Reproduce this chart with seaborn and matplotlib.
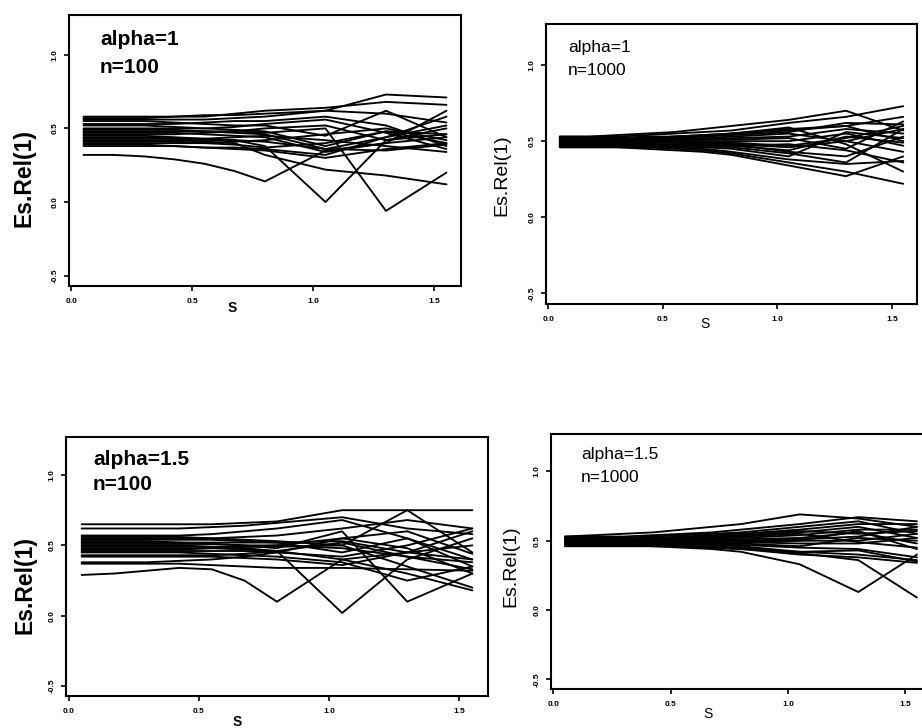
import pandas as pd
import matplotlib
matplotlib.use("Agg")
import matplotlib.pyplot as plt
import seaborn as sns

# grid of s values shared by every curve
s_vals = [0.05, 0.175, 0.3, 0.425, 0.55, 0.675, 0.8, 1.05, 1.3, 1.55]
x_ticks = [0.0, 0.5, 1.0, 1.5]
x_tick_labels = ["0.0", "0.5", "1.0", "1.5"]
y_ticks = [-0.5, 0.0, 0.5, 1.0]
y_tick_labels = ["-0.5", "0.0", "0.5", "1.0"]

# alpha=1, n=100
rel_a1_n100 = [
    [0.58, 0.58, 0.58, 0.58, 0.59, 0.59, 0.60, 0.62, 0.73, 0.71],
    [0.57, 0.57, 0.57, 0.58, 0.58, 0.60, 0.62, 0.64, 0.68, 0.66],
    [0.56, 0.56, 0.56, 0.56, 0.56, 0.57, 0.58, 0.62, 0.60, 0.54],
    [0.55, 0.55, 0.55, 0.54, 0.53, 0.52, 0.52, 0.45, 0.62, 0.44],
    [0.53, 0.53, 0.53, 0.53, 0.54, 0.55, 0.55, 0.58, 0.52, 0.38],
    [0.52, 0.52, 0.52, 0.51, 0.50, 0.49, 0.48, 0.38, 0.48, 0.40],
    [0.50, 0.50, 0.50, 0.50, 0.50, 0.51, 0.53, 0.56, 0.47, 0.36],
    [0.49, 0.49, 0.49, 0.49, 0.48, 0.47, 0.46, 0.36, 0.44, 0.58],
    [0.48, 0.48, 0.48, 0.48, 0.48, 0.48, 0.47, 0.50, -0.06, 0.20],
    [0.47, 0.47, 0.47, 0.47, 0.46, 0.45, 0.44, 0.34, 0.40, 0.62],
    [0.46, 0.46, 0.46, 0.46, 0.47, 0.48, 0.50, 0.52, 0.42, 0.46],
    [0.45, 0.45, 0.45, 0.44, 0.43, 0.42, 0.38, 0.00, 0.42, 0.50],
    [0.44, 0.44, 0.44, 0.43, 0.42, 0.42, 0.41, 0.36, 0.35, 0.39],
    [0.43, 0.43, 0.43, 0.43, 0.43, 0.44, 0.45, 0.42, 0.38, 0.34],
    [0.42, 0.42, 0.42, 0.42, 0.41, 0.40, 0.32, 0.22, 0.18, 0.12],
    [0.41, 0.41, 0.41, 0.41, 0.40, 0.39, 0.37, 0.40, 0.48, 0.46],
    [0.40, 0.40, 0.40, 0.40, 0.40, 0.41, 0.42, 0.46, 0.50, 0.42],
    [0.39, 0.39, 0.39, 0.38, 0.37, 0.36, 0.35, 0.30, 0.36, 0.40],
    [0.38, 0.38, 0.38, 0.38, 0.37, 0.37, 0.36, 0.32, 0.44, 0.52],
    [0.32, 0.32, 0.31, 0.29, 0.26, 0.21, 0.14, 0.35, 0.40, 0.44],
]

# alpha=1, n=1000
rel_a1_n1000 = [
    [0.53, 0.53, 0.54, 0.55, 0.56, 0.58, 0.60, 0.64, 0.70, 0.57],
    [0.53, 0.53, 0.53, 0.54, 0.55, 0.56, 0.57, 0.62, 0.66, 0.73],
    [0.52, 0.52, 0.52, 0.53, 0.53, 0.54, 0.55, 0.58, 0.60, 0.66],
    [0.52, 0.52, 0.52, 0.52, 0.52, 0.53, 0.54, 0.56, 0.62, 0.61],
    [0.51, 0.51, 0.51, 0.51, 0.52, 0.52, 0.53, 0.55, 0.50, 0.58],
    [0.51, 0.51, 0.51, 0.51, 0.51, 0.51, 0.52, 0.53, 0.58, 0.55],
    [0.50, 0.50, 0.50, 0.50, 0.51, 0.51, 0.51, 0.52, 0.45, 0.63],
    [0.50, 0.50, 0.50, 0.50, 0.50, 0.50, 0.50, 0.50, 0.55, 0.47],
    [0.49, 0.49, 0.49, 0.49, 0.49, 0.49, 0.49, 0.47, 0.52, 0.60],
    [0.49, 0.49, 0.49, 0.49, 0.49, 0.48, 0.48, 0.46, 0.50, 0.43],
    [0.48, 0.48, 0.48, 0.48, 0.48, 0.48, 0.47, 0.44, 0.53, 0.49],
    [0.48, 0.48, 0.48, 0.48, 0.47, 0.47, 0.46, 0.42, 0.36, 0.58],
    [0.47, 0.47, 0.47, 0.47, 0.46, 0.46, 0.45, 0.40, 0.56, 0.52],
    [0.47, 0.47, 0.47, 0.46, 0.46, 0.45, 0.43, 0.38, 0.35, 0.37],
    [0.46, 0.46, 0.46, 0.46, 0.45, 0.44, 0.42, 0.36, 0.30, 0.22],
    [0.46, 0.46, 0.46, 0.45, 0.44, 0.43, 0.41, 0.34, 0.27, 0.40],
    [0.51, 0.51, 0.51, 0.52, 0.53, 0.53, 0.55, 0.59, 0.48, 0.30],
    [0.50, 0.50, 0.50, 0.50, 0.50, 0.49, 0.48, 0.43, 0.40, 0.53],
    [0.47, 0.47, 0.47, 0.47, 0.47, 0.47, 0.47, 0.48, 0.44, 0.36],
    [0.52, 0.52, 0.52, 0.52, 0.53, 0.54, 0.55, 0.57, 0.60, 0.50],
]

# alpha=1.5, n=100
rel_a15_n100 = [
    [0.65, 0.65, 0.65, 0.65, 0.65, 0.66, 0.67, 0.75, 0.75, 0.75],
    [0.62, 0.62, 0.62, 0.62, 0.63, 0.64, 0.66, 0.70, 0.62, 0.58],
    [0.57, 0.57, 0.57, 0.57, 0.58, 0.60, 0.62, 0.68, 0.55, 0.40],
    [0.56, 0.56, 0.56, 0.56, 0.55, 0.54, 0.53, 0.50, 0.75, 0.45],
    [0.55, 0.55, 0.55, 0.55, 0.55, 0.56, 0.57, 0.62, 0.68, 0.62],
    [0.54, 0.54, 0.54, 0.54, 0.54, 0.53, 0.52, 0.45, 0.55, 0.35],
    [0.53, 0.53, 0.53, 0.52, 0.51, 0.50, 0.48, 0.60, 0.10, 0.30],
    [0.52, 0.52, 0.52, 0.52, 0.52, 0.52, 0.52, 0.53, 0.45, 0.60],
    [0.51, 0.51, 0.51, 0.51, 0.51, 0.50, 0.50, 0.48, 0.42, 0.38],
    [0.50, 0.50, 0.50, 0.50, 0.49, 0.48, 0.46, 0.02, 0.40, 0.55],
    [0.49, 0.49, 0.49, 0.49, 0.49, 0.49, 0.49, 0.50, 0.35, 0.20],
    [0.48, 0.48, 0.48, 0.48, 0.48, 0.47, 0.46, 0.40, 0.30, 0.18],
    [0.47, 0.47, 0.47, 0.47, 0.48, 0.49, 0.50, 0.55, 0.48, 0.30],
    [0.46, 0.46, 0.46, 0.46, 0.46, 0.46, 0.45, 0.42, 0.50, 0.62],
    [0.45, 0.45, 0.45, 0.45, 0.44, 0.43, 0.42, 0.38, 0.25, 0.35],
    [0.43, 0.43, 0.43, 0.43, 0.43, 0.44, 0.46, 0.52, 0.42, 0.33],
    [0.42, 0.42, 0.42, 0.42, 0.42, 0.41, 0.40, 0.36, 0.45, 0.50],
    [0.38, 0.38, 0.38, 0.39, 0.40, 0.42, 0.45, 0.55, 0.60, 0.44],
    [0.37, 0.37, 0.37, 0.37, 0.36, 0.35, 0.34, 0.34, 0.33, 0.32],
    [0.29, 0.30, 0.32, 0.34, 0.33, 0.25, 0.10, 0.40, 0.45, 0.40],
]

# alpha=1.5, n=1000
rel_a15_n1000 = [
    [0.53, 0.54, 0.55, 0.56, 0.58, 0.60, 0.62, 0.69, 0.66, 0.60],
    [0.53, 0.53, 0.53, 0.54, 0.55, 0.56, 0.58, 0.62, 0.67, 0.64],
    [0.52, 0.52, 0.52, 0.53, 0.54, 0.55, 0.56, 0.60, 0.64, 0.55],
    [0.52, 0.52, 0.52, 0.52, 0.53, 0.54, 0.55, 0.58, 0.62, 0.62],
    [0.51, 0.51, 0.51, 0.52, 0.52, 0.53, 0.54, 0.56, 0.60, 0.52],
    [0.51, 0.51, 0.51, 0.51, 0.51, 0.52, 0.52, 0.54, 0.58, 0.58],
    [0.50, 0.50, 0.50, 0.51, 0.51, 0.51, 0.51, 0.52, 0.56, 0.48],
    [0.50, 0.50, 0.50, 0.50, 0.50, 0.50, 0.50, 0.51, 0.53, 0.60],
    [0.50, 0.50, 0.50, 0.50, 0.50, 0.50, 0.50, 0.50, 0.50, 0.55],
    [0.49, 0.49, 0.49, 0.49, 0.49, 0.49, 0.49, 0.48, 0.48, 0.52],
    [0.49, 0.49, 0.49, 0.49, 0.49, 0.48, 0.48, 0.46, 0.52, 0.50],
    [0.48, 0.48, 0.48, 0.48, 0.48, 0.48, 0.47, 0.45, 0.44, 0.38],
    [0.48, 0.48, 0.48, 0.48, 0.47, 0.47, 0.46, 0.42, 0.40, 0.36],
    [0.47, 0.47, 0.47, 0.47, 0.46, 0.45, 0.44, 0.40, 0.38, 0.34],
    [0.47, 0.47, 0.47, 0.46, 0.45, 0.44, 0.42, 0.33, 0.13, 0.40],
    [0.47, 0.47, 0.47, 0.47, 0.46, 0.46, 0.45, 0.41, 0.36, 0.09],
    [0.46, 0.46, 0.46, 0.46, 0.46, 0.45, 0.44, 0.42, 0.43, 0.35],
    [0.51, 0.51, 0.51, 0.51, 0.52, 0.52, 0.53, 0.55, 0.49, 0.45],
    [0.49, 0.49, 0.49, 0.49, 0.49, 0.49, 0.49, 0.50, 0.57, 0.44],
    [0.52, 0.52, 0.52, 0.52, 0.52, 0.53, 0.54, 0.57, 0.55, 0.57],
]

sns.set_style("ticks")
plt.rcParams["font.family"] = ["Liberation Sans", "DejaVu Sans"]
plt.rcParams["text.color"] = "black"
plt.rcParams["axes.labelcolor"] = "black"
plt.rcParams["xtick.color"] = "black"
plt.rcParams["ytick.color"] = "black"

W, H = 922, 728
fig = plt.figure(figsize=(W / 100, H / 100), dpi=100)


def to_long(rows):
    recs = []
    for run, vals in enumerate(rows):
        for s, v in zip(s_vals, vals):
            recs.append({"run": run, "s": s, "rel": v})
    return pd.DataFrame(recs)


# (data, box in px: left, top, right, bottom, alpha text, n text, bold,
#  text pos (axes frac), ylabel coords, xlabel coords)
panels = [
    (rel_a1_n100, (69, 15, 461, 286), "alpha=1", "n=100", True,
     (0.079, 0.945, 0.841), (-0.085, 0.40), (0.416, -0.055)),
    (rel_a1_n1000, (546, 24, 917, 304), "alpha=1", "n=1000", False,
     (0.059, 0.943, 0.861), (-0.097, 0.46), (0.428, -0.045)),
    (rel_a15_n100, (66, 437, 488, 696), "alpha=1.5", "n=100", True,
     (0.064, 0.950, 0.853), (-0.069, 0.43), (0.405, -0.072)),
    (rel_a15_n1000, (551, 434, 931, 689), "alpha=1.5", "n=1000", False,
     (0.079, 0.949, 0.859), (-0.082, 0.48), (0.413, -0.070)),
]

for rows, box, t_alpha, t_n, bold, tpos, ylab_xy, xlab_xy in panels:
    l, t, r, b = box
    ax = fig.add_axes([l / W, 1 - b / H, (r - l) / W, (b - t) / H])
    df = to_long(rows)
    sns.lineplot(data=df, x="s", y="rel", units="run", estimator=None,
                 color="black", lw=1.35, ax=ax, legend=False)
    ax.set_xlim(-0.01, 1.61)
    ax.set_ylim(-0.57, 1.27)
    ax.set_xticks(x_ticks)
    ax.set_xticklabels(x_tick_labels, fontsize=6, fontweight="bold")
    ax.set_yticks(y_ticks)
    ax.set_yticklabels(y_tick_labels, fontsize=6, fontweight="bold",
                       rotation=90, va="center")
    ax.tick_params(axis="both", length=3.5, width=1.2, color="black")
    ax.tick_params(axis="x", pad=5)
    ax.tick_params(axis="y", pad=4)
    for sp in ax.spines.values():
        sp.set_linewidth(1.5)
        sp.set_color("black")

    w = "bold" if bold else "normal"
    fs = 15 if bold else 12.5
    ax.text(tpos[0], tpos[1], t_alpha, transform=ax.transAxes, fontsize=fs,
            fontweight=w, va="top", ha="left", color="black")
    ax.text(tpos[0], tpos[2], t_n, transform=ax.transAxes, fontsize=fs,
            fontweight=w, va="top", ha="left", color="black")

    ax.set_ylabel("Es.Rel(1)", fontsize=16.5 if bold else 14, fontweight=w)
    ax.yaxis.set_label_coords(*ylab_xy)
    ax.set_xlabel("S", fontsize=10, fontweight=w)
    ax.xaxis.set_label_coords(*xlab_xy)

fig.savefig("out.png", dpi=100, facecolor="white")
